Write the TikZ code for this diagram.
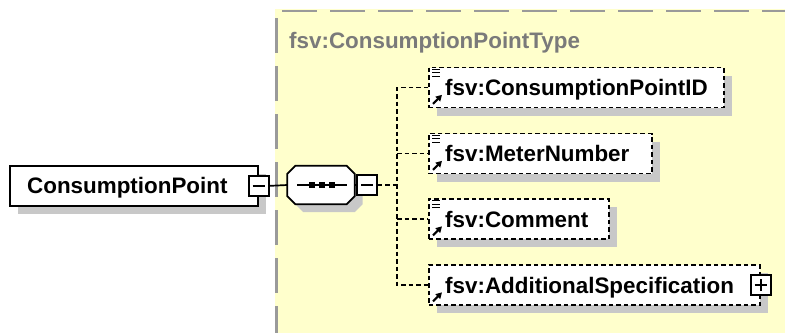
\documentclass[tikz,border=0pt]{standalone}
\usepackage{fontspec}
\setmainfont{Liberation Sans}
\usetikzlibrary{calc,arrows.meta}
\definecolor{bgyellow}{HTML}{FFFFCC}
\definecolor{shadowgray}{HTML}{C8C8C8}
\definecolor{bordergray}{HTML}{9A9A9A}
\definecolor{titlegray}{HTML}{7A7A7A}
\newcommand\xsdfont{\fontsize{22.4}{26}\selectfont\bfseries}
\tikzset{
  shadowed/.style={preaction={fill=shadowgray, draw=none, transform canvas={shift={(8pt,-8pt)}}}},
  cpbox/.style={draw=black, fill=white, line width=1.7pt, shadowed, inner sep=0pt, anchor=north west},
  childbox/.style={draw=black, fill=white, line width=1.7pt, dash pattern=on 4.5pt off 3pt, shadowed, inner sep=0pt, minimum height=40pt, anchor=west},
  tgl/.style={draw=black, fill=white, line width=1.7pt, minimum size=20pt, inner sep=0pt},
  txt/.style={inner sep=0pt, anchor=base west, font=\xsdfont},
  conn/.style={line width=1.7pt, dash pattern=on 4.5pt off 3pt},
  solidconn/.style={line width=1.7pt},
  icon/.style={line width=1.3pt},
}
\newcommand\barsicon[1]{%
  \draw[icon] ($(#1.north west)+(4pt,-2.5pt)$) -- ++(8pt,0pt);
  \draw[icon] ($(#1.north west)+(4pt,-6pt)$) -- ++(8pt,0pt);
  \draw[icon] ($(#1.north west)+(4pt,-9.5pt)$) -- ++(8pt,0pt);}
\newcommand\arrowicon[1]{%
  \draw[line width=2pt, -{Triangle[length=6pt,width=6.5pt]}] ($(#1.south west)+(5pt,4.5pt)$) -- ++(9pt,9pt);}
\begin{document}
\begin{tikzpicture}[x=1pt,y=-1pt]
\useasboundingbox (0,0) rectangle (785,333);
% background type region
\fill[bgyellow] (275,9) rectangle (785,333);
\draw[bordergray, line width=2.2pt, dash pattern=on 35pt off 13pt] (282,11) -- (785,11);
\draw[bordergray, line width=2.2pt, dash pattern=on 35pt off 13pt] (276.5,18) -- (276.5,333);
\node[inner sep=0pt, anchor=base west, font=\xsdfont, text=titlegray] (title) at (289,48) {fsv:ConsumptionPointType};

% root element
\node[cpbox, minimum width=248pt, minimum height=40pt] (cp) at (9,165) {};
\node[txt] (cptxt) at (27,193) {ConsumptionPoint};
\node[tgl] (cpm) at (cp.east) {};
\draw[solidconn] ($(cpm.center)+(-6pt,0pt)$) -- ($(cpm.center)+(6pt,0pt)$);

% sequence compositor
\node[minimum width=67pt, minimum height=38pt, inner sep=0pt] (seq) at (321,185) {};
\path[draw=black, fill=white, shadowed, line width=1.7pt]
  ($(seq.north west)+(8pt,0pt)$) -- ($(seq.north east)+(-8pt,0pt)$) --
  ($(seq.north east)+(0pt,-8pt)$) -- ($(seq.south east)+(0pt,8pt)$) --
  ($(seq.south east)+(-8pt,0pt)$) -- ($(seq.south west)+(8pt,0pt)$) --
  ($(seq.south west)+(0pt,8pt)$) -- ($(seq.north west)+(0pt,-8pt)$) -- cycle;
\draw[solidconn] ($(seq.west)+(10pt,0pt)$) -- ($(seq.east)+(-8pt,0pt)$);
\foreach \dx in {-9,1,11} \fill ($(seq.center)+(\dx pt,0pt)+(-3pt,-3pt)$) rectangle ++(6pt,6pt);
\node[tgl] (seqm) at (367,185) {};
\draw[solidconn] ($(seqm.center)+(-6pt,0pt)$) -- ($(seqm.center)+(6pt,0pt)$);
\draw[solidconn] (cpm.east) -- (seq.west);
\draw[solidconn] (seq.east) -- (seqm.west);
\coordinate (bus) at (397,185);

% children
\node[childbox, minimum width=295pt] (id) at (428,87.5) {};
\node[txt] (idtxt) at ($(id.west)+(17pt,-8pt)$) {fsv:ConsumptionPointID};
\node[childbox, minimum width=223pt] (meter) at (428,153.5) {};
\node[txt] (metertxt) at ($(meter.west)+(17pt,-8pt)$) {fsv:MeterNumber};
\node[childbox, minimum width=180pt] (comment) at (428,219) {};
\node[txt] (commenttxt) at ($(comment.west)+(17pt,-8pt)$) {fsv:Comment};
\node[childbox, minimum width=331pt] (add) at (428,285) {};
\node[txt] (addtxt) at ($(add.west)+(17pt,-8pt)$) {fsv:AdditionalSpecification};
\node[tgl] (addp) at (add.east) {};
\draw[solidconn] ($(addp.center)+(-6pt,0pt)$) -- ($(addp.center)+(6pt,0pt)$);
\draw[solidconn] ($(addp.center)+(0pt,-6pt)$) -- ($(addp.center)+(0pt,6pt)$);

\barsicon{id}\arrowicon{id}
\barsicon{meter}\arrowicon{meter}
\barsicon{comment}\arrowicon{comment}
\arrowicon{add}

% connectors
\draw[conn] (seqm.east) -- (bus);
\draw[conn] (id.west) -| (bus) |- (add.west);
\draw[conn] (bus |- meter.west) -- (meter.west);
\draw[conn] (bus |- comment.west) -- (comment.west);
\end{tikzpicture}
\end{document}
